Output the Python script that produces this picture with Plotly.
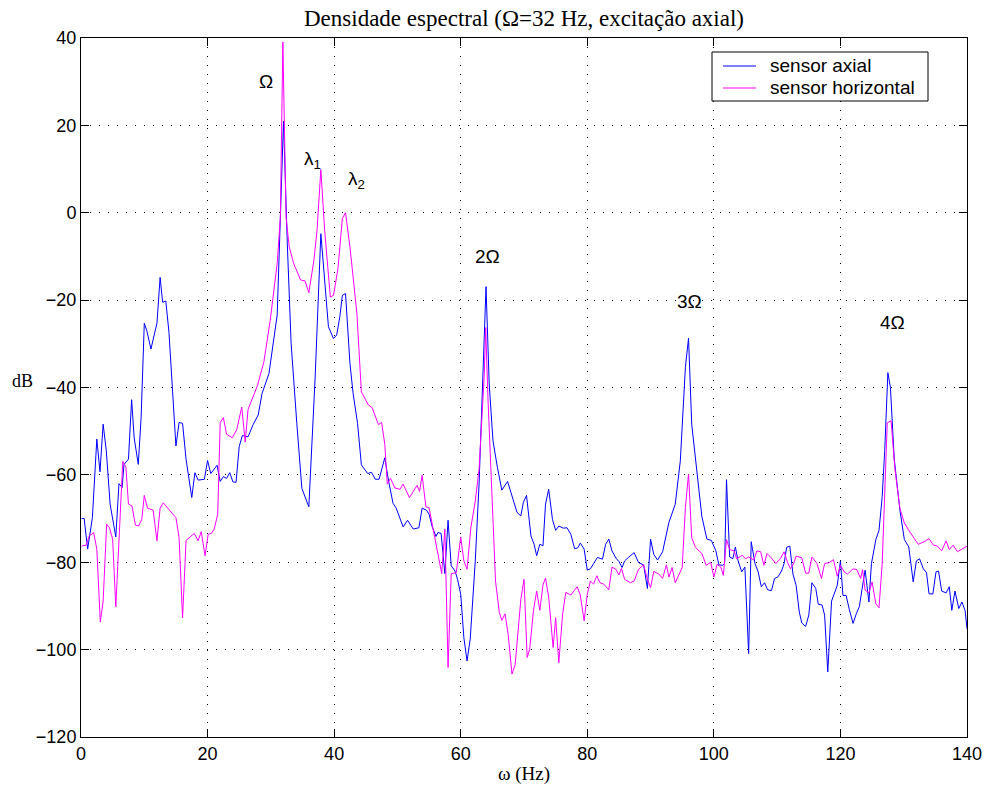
import plotly.graph_objects as go

# ---- data ----
freq_axial = [0.1, 0.5, 1.05, 1.8, 2.5, 3.0, 3.5, 4.0, 4.6, 5.5, 6.0, 6.5, 6.8, 7.5, 8.0, 8.4, 9.05, 9.5,
              10.0, 10.4, 11.05, 12.0, 12.5, 12.9, 13.4, 13.9, 15.0, 15.5, 16.05, 16.6, 17.5, 18.0, 18.5, 19.5,
              20.0, 20.5, 21.5, 22.0, 22.5, 23.0, 23.5, 24.0, 24.5, 25.0, 25.5, 26.4, 27.2, 28.0, 28.6, 29.7,
              31.0, 31.5, 32.0, 32.6, 33.2, 34.1, 34.9, 36.0, 37.0, 37.9, 38.5, 39.1, 39.9, 40.4, 40.9, 41.3,
              41.8, 42.5, 43.0, 43.7, 44.3, 45.3, 45.9, 46.5, 47.1, 48.0, 48.6, 49.3, 49.8, 50.9, 51.6, 52.5,
              53.4, 53.9, 54.6, 55.0, 55.5, 56.1, 56.4, 56.9, 57.5, 58.0, 58.5, 59.1, 59.5, 60.0, 60.5, 61.0,
              61.5, 62.3, 62.9, 63.4, 64.0, 64.5, 65.1, 65.8, 66.5, 67.4, 68.2, 68.9, 69.5, 69.9, 70.4, 71.1,
              71.6, 72.0, 72.5, 73.0, 73.4, 73.9, 74.5, 75.0, 75.5, 76.2, 76.8, 77.4, 78.0, 78.5, 78.9, 79.5,
              80.0, 80.5, 81.0, 81.6, 82.4, 82.9, 83.4, 83.9, 84.6, 85.0, 85.5, 85.9, 86.5, 87.4, 88.1, 88.9,
              89.5, 90.0, 90.5, 91.1, 91.9, 92.9, 93.9, 94.7, 95.5, 96.0, 96.5, 97.4, 98.1, 98.9, 99.6, 100.3,
              100.8, 101.4, 101.7, 102.0, 102.5, 103.0, 103.4, 103.8, 104.4, 104.9, 105.5, 105.9, 106.5, 107.0,
              107.5, 108.0, 108.5, 109.1, 109.6, 110.1, 110.7, 111.1, 111.5, 112.0, 112.5, 113.0, 113.5, 113.9,
              114.5, 115.0, 115.5, 116.1, 116.5, 117.1, 117.5, 118.0, 118.6, 119.5, 120.0, 120.4, 120.9, 121.4,
              122.0, 122.5, 123.0, 123.4, 123.9, 124.5, 124.9, 125.6, 126.1, 126.6, 127.0, 127.5, 127.9, 128.5,
              129.4, 130.1, 130.8, 131.5, 132.0, 132.5, 133.1, 133.6, 134.0, 134.6, 135.1, 135.5, 136.0, 136.7,
              137.2, 137.6, 138.1, 138.7, 139.2, 139.7, 140.0]
db_axial = [-70, -70, -77, -69.8, -51.8, -59.3, -48.4, -54.5, -66.7, -74.2, -62, -62.9, -57.6, -56.4, -42.8, -51.5, -57.6, -46.9,
            -25.3, -27, -31.2, -25.3, -14.8, -20.5, -20.2, -27.4, -53.4, -48, -48.2, -56.4, -65.2, -59.5, -61.2, -61,
            -56.7, -59.7, -57.8, -61.5, -60.4, -60.8, -59.5, -61.6, -61.7, -53.5, -51, -51.3, -48.5, -46.3, -41.4, -36.8,
            -23.4, -2.5, 21, -7.1, -29.9, -48.2, -63.1, -67.3, -37.6, -4.8, -15.4, -26.1, -28.8, -28, -23.8, -18.9,
            -18.5, -34.5, -41.4, -48.2, -57.7, -59.7, -59.4, -61, -61, -56.1, -61.4, -66.5, -67.6, -71.9, -70.4, -72.4,
            -72.1, -67.6, -68.1, -69, -71.9, -74.1, -73.2, -73.4, -82.6, -70.4, -80.8, -82, -83.9, -87.3, -97.3, -102.6,
            -97.6, -79.7, -62.1, -40, -16.9, -39.2, -52.2, -58.3, -63.5, -61.5, -65.6, -68.6, -69.4, -66.3, -64.7, -74,
            -75.9, -78.5, -75.9, -76.2, -66.7, -63.3, -70.2, -72.7, -71.7, -72.2, -72.1, -73.6, -76.9, -76.7, -75.6, -77,
            -81.8, -81.5, -80.3, -78.9, -79.3, -75.9, -74.7, -77.4, -79.2, -79.8, -81.2, -79.7, -78.9, -77.8, -80.1, -80.6,
            -86, -74.7, -78.2, -79.5, -77.6, -70.9, -66.7, -56.8, -35.4, -28.7, -48.4, -61, -69.5, -74.7, -75, -77.3,
            -80.6, -80.7, -80.3, -61.1, -78.8, -79.2, -76.5, -79.5, -82.2, -81.1, -100.9, -75.3, -80.3, -82.2,
            -85.6, -84.7, -86.3, -86.5, -83.7, -83.4, -82, -80.3, -76.6, -76.3, -82.7, -85.3, -91.4, -93.9,
            -94.7, -92.1, -84.7, -86, -89.6, -89.8, -92.1, -105.1, -88.9, -85.3, -79.7, -87.6, -87.6, -90.8,
            -94, -91.8, -90.1, -86.3, -81.8, -89.1, -80.3, -74.8, -72.7, -65, -54.4, -36.6, -40, -56.3,
            -68.1, -74.8, -76.5, -84.5, -79.7, -79.2, -81.5, -82.4, -87.2, -87.3, -82.2, -82, -86.6, -87,
            -85.6, -91, -86.6, -90.6, -89.1, -91.1, -95.2]

freq_horiz = [0.1, 0.8, 1.3, 2.0, 2.5, 3.05, 3.5, 4.05, 4.5, 5.0, 5.5, 6.0, 6.6, 7.1, 7.5, 8.05, 8.6, 9.1, 9.6,
              10.0, 10.5, 11.4, 12.0, 12.5, 13.0, 15.0, 15.5, 16.05, 16.6, 17.9, 18.5, 19.0, 19.6, 20.1, 20.6,
              21.05, 21.6, 22.0, 22.5, 23.0, 23.9, 24.6, 25.4, 25.95, 26.4, 27.9, 28.9, 29.9, 31.0, 31.5, 31.9,
              32.4, 32.9, 33.6, 34.7, 35.4, 36.0, 36.8, 37.3, 37.9, 38.5, 39.4, 39.9, 40.6, 41.3, 41.8, 42.5,
              43.6, 44.3, 45.4, 46.0, 47.0, 47.5, 48.0, 48.4, 48.9, 49.6, 50.4, 50.9, 51.9, 53.1, 53.5, 53.9,
              54.5, 55.0, 55.6, 57.0, 57.5, 58.0, 58.5, 59.3, 60.0, 60.5, 61.0, 61.6, 62.3, 62.9, 63.7, 63.95,
              64.3, 65.0, 65.5, 66.1, 66.5, 67.0, 67.5, 68.1, 68.6, 69.5, 70.0, 70.5, 70.9, 71.5, 72.0, 72.5,
              73.0, 73.4, 73.9, 74.6, 75.0, 75.5, 76.1, 76.6, 77.4, 78.4, 78.9, 79.5, 80.0, 80.5, 81.0, 81.5,
              82.0, 82.6, 83.4, 83.9, 84.5, 85.0, 85.4, 85.9, 86.8, 87.4, 88.1, 88.9, 89.5, 90.0, 90.5, 91.3,
              91.9, 92.5, 92.9, 93.4, 93.9, 95.0, 95.5, 96.0, 96.5, 97.1, 98.1, 98.8, 99.5, 100.0, 100.5, 101.1,
              101.5, 102.0, 102.5, 103.2, 103.6, 104.5, 105.0, 105.5, 106.3, 106.8, 107.4, 107.9, 108.4, 109.0,
              109.8, 110.5, 111.1, 111.6, 112.1, 112.6, 113.0, 113.9, 114.5, 115.0, 115.5, 116.3, 117.0, 117.5,
              118.2, 118.9, 119.5, 120.0, 120.6, 121.1, 122.0, 122.6, 123.2, 123.5, 123.9, 124.5, 125.0, 125.6,
              126.1, 126.6, 127.0, 127.4, 128.0, 128.6, 129.4, 130.1, 130.8, 131.6, 132.3, 133.2, 134.0, 134.7,
              135.3, 136.0, 136.7, 137.2, 137.8, 138.5, 139.2, 140.0]
db_horiz = [-76.3, -76.1, -74, -73.2, -77, -93.7, -88.9, -71.3, -72.1, -74.7, -90.2, -73.6, -56.9, -58.3, -66.7, -67.1, -71.5, -71.7, -70.2,
            -64.7, -67.6, -68.1, -75.1, -67.6, -66.4, -69.8, -74.4, -92.7, -75, -73.4, -75.1, -73, -78.5, -73.6, -73.4,
            -72.4, -69, -48, -46.9, -50.7, -51.5, -49.7, -44.5, -52.5, -45, -39.5, -34.1, -24.6, -11.6, -1, 39.1,
            -1, -7.8, -11.6, -15.4, -15.6, -18.3, -10.9, -4, 9.9, -4, -19.3, -18.9, -12.8, -1.3, 0, -7.8,
            -23.1, -41, -44, -44.6, -48.5, -48, -53, -62.1, -60.8, -63, -63.3, -62.1, -65.2, -62.4, -63.8, -60.1,
            -67.3, -67.5, -72.1, -82.6, -72.4, -104.1, -82.6, -82.4, -74.2, -79.7, -81.6, -72.1, -66, -58.7, -37.7, -26.3,
            -42.3, -67.5, -84.3, -91.5, -93.3, -91.8, -96.5, -105.6, -103.5, -88.5, -83.9, -101.8, -99.9, -91, -86.6, -91,
            -85.2, -83.6, -88, -99.5, -92.7, -103, -91.9, -86.9, -87.5, -85.6, -87.5, -93.4, -87.3, -84.3, -85, -83.1,
            -84.7, -85, -86.3, -81.1, -81.6, -82.9, -81.4, -83.9, -84.7, -84.3, -81.6, -80.6, -83.9, -85.8, -82.1, -82.7,
            -83.7, -80.6, -83.4, -81.2, -84.7, -81.2, -67.5, -59.8, -74.4, -76.6, -78, -80.7, -80, -83.4, -80.5, -81.1,
            -83, -74.8, -77.1, -77.4, -79.2, -78.4, -79.2, -78.8, -79.5, -77.4, -77.6, -80.7, -78, -78.9,
            -80.3, -79.2, -77.6, -79.9, -81.5, -80.3, -78.6, -79, -82.5, -82.5, -78.8, -80.3, -83.7, -80.3,
            -80.1, -79.4, -83.2, -80.7, -82.2, -82.7, -81.5, -81.7, -83.7, -81.7, -86.4, -87, -84.5, -89.5,
            -90.4, -80.3, -65.4, -48.1, -47.6, -58.5, -67.7, -71, -72.7, -74.4, -75.9, -75.3, -74.6, -76.1,
            -76.3, -77.4, -75.1, -77.1, -76.1, -77.6, -76.9, -76.3]

series_names = ["sensor axial", "sensor horizontal"]
series_colors = ["#0000ff", "#ff00ff"]
peak_labels = ["Ω", "λ<sub>1</sub>", "λ<sub>2</sub>", "2Ω", "3Ω", "4Ω"]
peak_label_x = [29.2, 36.6, 43.6, 64.2, 96.2, 128.2]
peak_label_y = [30.0, 12.0, 7.5, -10.0, -20.3, -25.1]
x_ticks = [0, 20, 40, 60, 80, 100, 120, 140]
y_ticks = [-120, -100, -80, -60, -40, -20, 0, 20, 40]

SANS = "Liberation Sans, Arial, Helvetica, sans-serif"
SERIF = "Liberation Serif, Times New Roman, serif"

# figure geometry (pixels)
W, H = 986, 790
L, R, T, B = 81, 19, 38, 53
PW, PH = W - L - R, H - T - B


def px_x(p):
    return (p - L) / PW


def px_y(p):
    return 1 - (p - T) / PH


fig = go.Figure()
for name, col, xs, ys in zip(series_names, series_colors, [freq_axial, freq_horiz], [db_axial, db_horiz]):
    fig.add_trace(go.Scatter(x=xs, y=ys, mode="lines", name=name, showlegend=False,
                             line=dict(color=col, width=1)))

for txt, xx, yy in zip(peak_labels, peak_label_x, peak_label_y):
    fig.add_annotation(x=xx, y=yy, text=txt, showarrow=False,
                       font=dict(family=SANS, size=19, color="black"))

# y label (horizontal, MATLAB style)
fig.add_annotation(xref="paper", yref="paper", x=px_x(22.5), y=px_y(381),
                   text="dB", showarrow=False, xanchor="center", yanchor="middle",
                   font=dict(family=SERIF, size=18, color="black"))

# MATLAB-style legend box (drawn in paper coordinates)
fig.add_shape(type="rect", xref="paper", yref="paper",
              x0=px_x(712), x1=px_x(928), y0=px_y(101), y1=px_y(52),
              line=dict(color="black", width=1), fillcolor="white", layer="above")
for i, (name, col) in enumerate(zip(series_names, series_colors)):
    yy = 66 + 22 * i
    fig.add_shape(type="line", xref="paper", yref="paper",
                  x0=px_x(723), x1=px_x(756), y0=px_y(yy), y1=px_y(yy),
                  line=dict(color=col, width=1), layer="above")
    fig.add_annotation(xref="paper", yref="paper", x=px_x(768), y=px_y(yy),
                       text=name, showarrow=False, xanchor="left", yanchor="middle",
                       font=dict(family=SANS, size=19, color="black"))

axis_common = dict(showline=True, linecolor="black", linewidth=1, mirror="ticks",
                   ticks="inside", ticklen=8, tickcolor="black", tickwidth=1,
                   showgrid=True, gridcolor="black", gridwidth=1, griddash="1px,8px",
                   zeroline=False, automargin=False,
                   tickfont=dict(family=SANS, size=18, color="black"))

fig.update_xaxes(range=[0, 140], tickvals=x_ticks, ticktext=[str(v) for v in x_ticks],
                 **axis_common,
                 title=dict(text="ω (Hz)", font=dict(family=SERIF, size=19, color="black"), standoff=4))
fig.update_yaxes(range=[-120, 40], tickvals=y_ticks,
                 ticktext=[("−" + str(-v)) if v < 0 else str(v) for v in y_ticks], **axis_common)

fig.update_layout(
    width=W, height=H,
    margin=dict(l=L, r=R, t=T, b=B),
    paper_bgcolor="white", plot_bgcolor="white",
    title=dict(text="Densidade espectral (Ω=32 Hz, excitação axial)",
               x=524 / W, xanchor="center", xref="container",
               y=1 - 18 / H, yanchor="middle",
               font=dict(family=SERIF, size=23, color="black")),
    showlegend=False,
)

fig.write_html("out.html")
